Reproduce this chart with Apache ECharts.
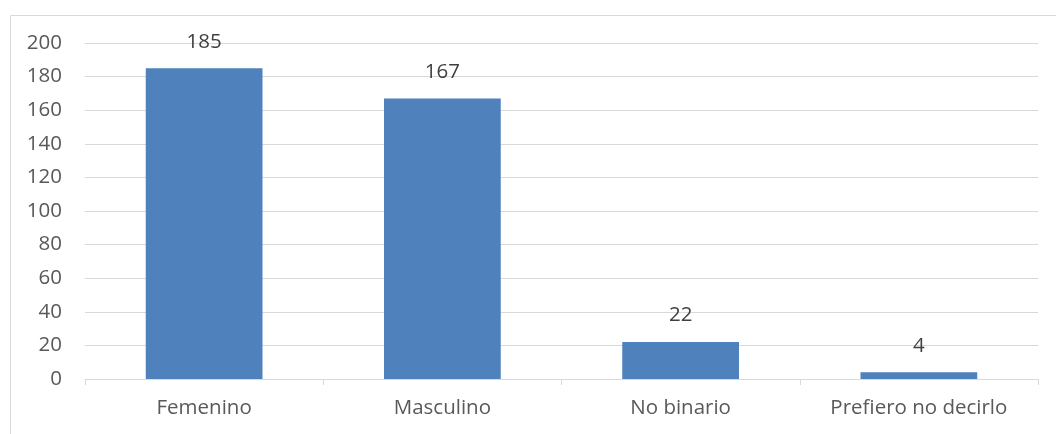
<!DOCTYPE html>
<html><head><meta charset="utf-8">
<script src="https://cdn.jsdelivr.net/npm/echarts@6/dist/echarts.min.js"></script>
<style>html,body{margin:0;padding:0;background:#fff}#c{width:1056px;height:434px}</style>
</head><body><div id="c"></div>
<script>
const categories = ['Femenino', 'Masculino', 'No binario', 'Prefiero no decirlo'];
const values = [185, 167, 22, 4];
const yTicks = { min: 0, max: 200, interval: 20 };

const FONT = 'Open Sans';
const chart = echarts.init(document.getElementById('c'), null, { renderer: 'canvas' });
chart.setOption({
  animation: false,
  backgroundColor: '#ffffff',
  graphic: [{
    type: 'rect', left: 8, top: 13, silent: true,
    shape: { width: 1200, height: 600 },
    style: { fill: 'none', stroke: '#D9D9D9', lineWidth: 1 }
  }],
  grid: { left: 85, right: 18, top: 43, bottom: 55, containLabel: false },
  xAxis: {
    type: 'category', data: categories,
    axisLine: { lineStyle: { color: '#D9D9D9', width: 1 } },
    axisTick: { show: true, length: 6, lineStyle: { color: '#D9D9D9' } },
    axisLabel: { color: '#595959', fontFamily: FONT, fontSize: 20.5, margin: 19 }
  },
  yAxis: {
    type: 'value', min: yTicks.min, max: yTicks.max, interval: yTicks.interval,
    axisLine: { show: false }, axisTick: { show: false },
    splitLine: { lineStyle: { color: '#D9D9D9', width: 1 } },
    axisLabel: { color: '#595959', fontFamily: FONT, fontSize: 20.5, margin: 23 }
  },
  series: [{
    type: 'bar', data: values, barWidth: '49%',
    itemStyle: { color: '#4F81BD' },
    label: { show: true, position: 'top', distance: 16, color: '#404040', fontFamily: FONT, fontSize: 20.5 }
  }]
});
</script></body></html>
